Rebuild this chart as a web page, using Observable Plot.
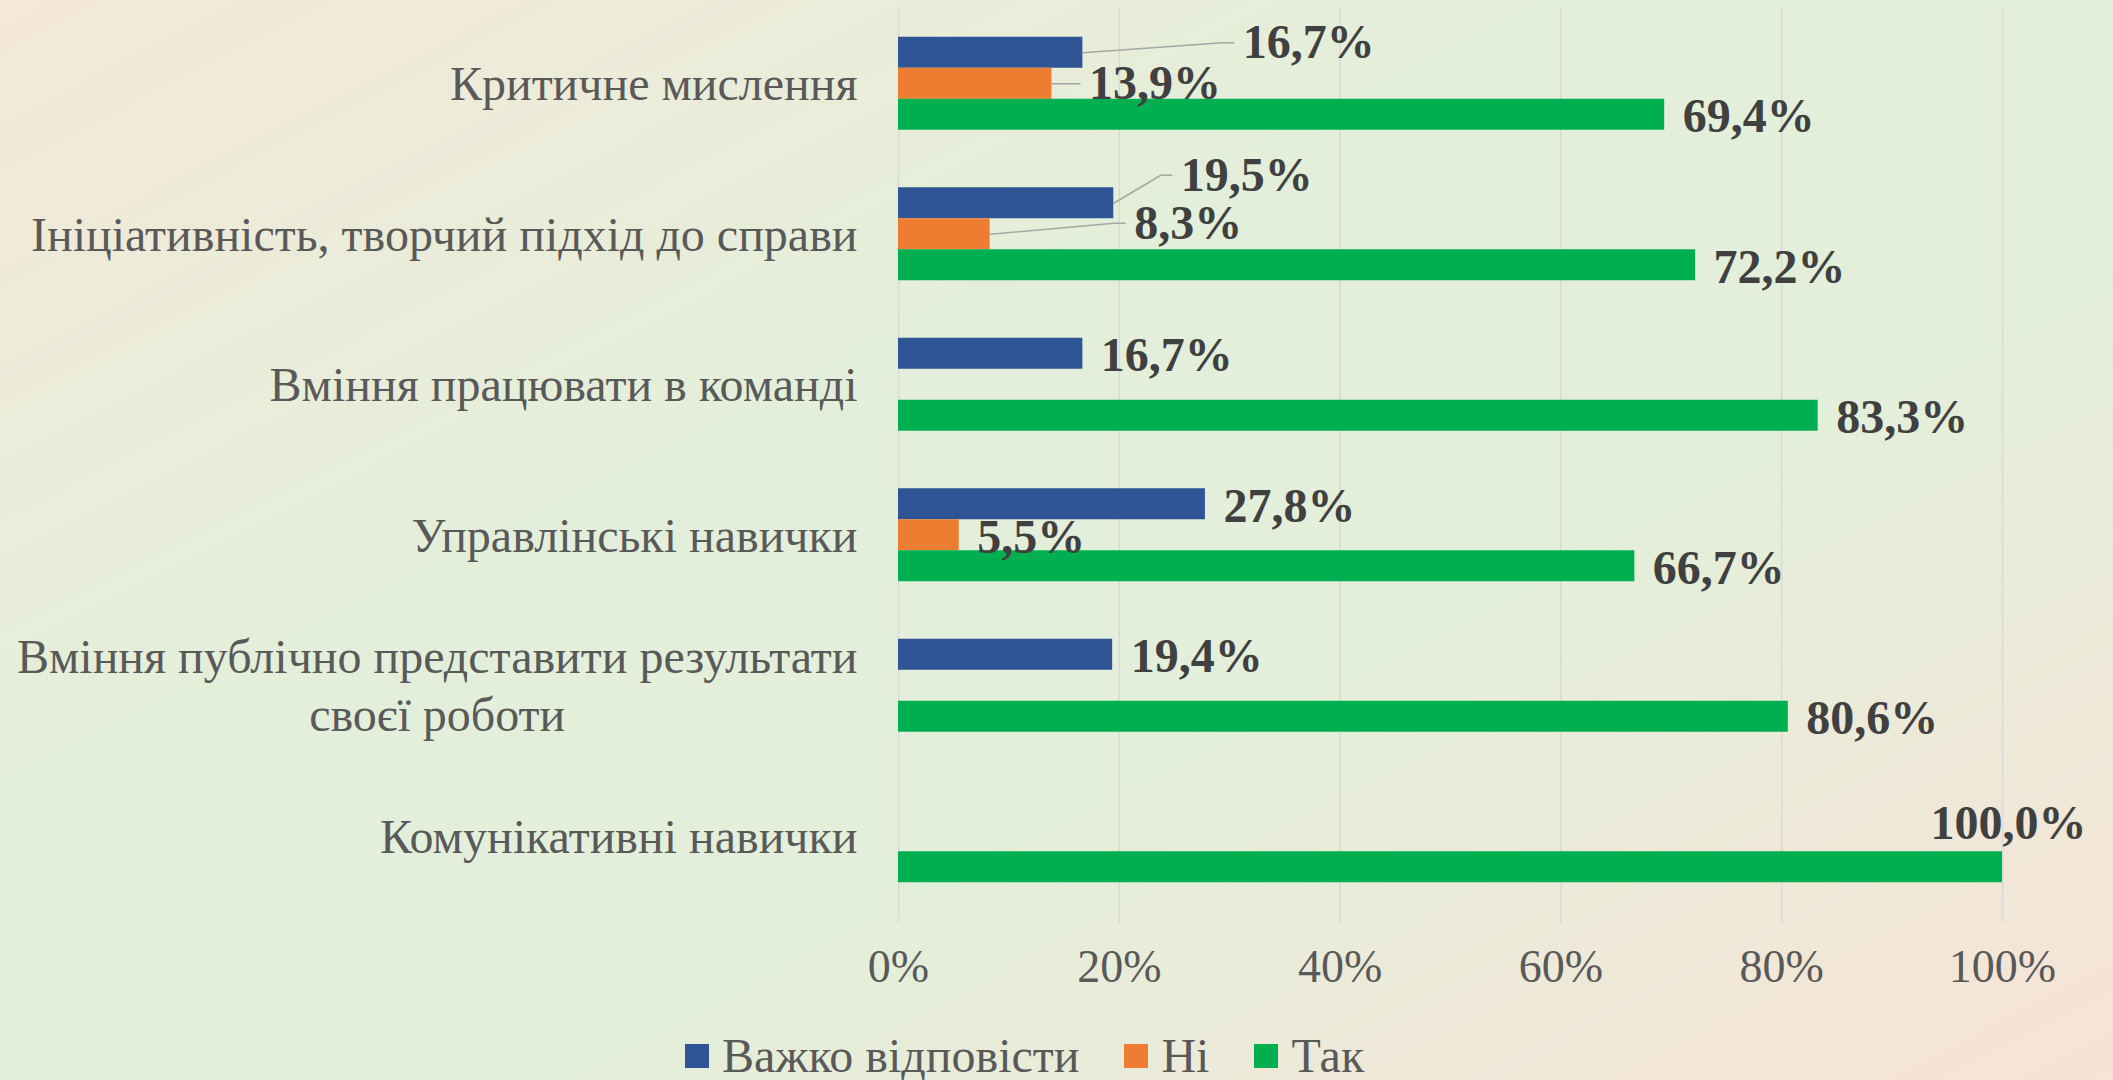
<!DOCTYPE html>
<html>
<head>
<meta charset="utf-8">
<script src="https://cdn.jsdelivr.net/npm/d3@7"></script>
<script src="https://cdn.jsdelivr.net/npm/@observablehq/plot@0.6"></script>
<style>
  html, body { margin: 0; padding: 0; width: 2113px; height: 1080px; overflow: hidden; }
  body {
    background: linear-gradient(to bottom right, #f4e8d8 0%, #e3efda 38%, #e3efda 62%, #f8e3d6 100%);
    font-family: "Liberation Serif", "Times New Roman", serif;
  }
  #legend {
    height: 48px; padding-top: 32px; padding-left: 685px;
    display: flex; align-items: center;
    font-size: 48px; line-height: 48px; color: #595959;
  }
  #legend .item { display: inline-flex; align-items: center; margin-right: 45px; }
  #legend .sw { width: 24px; height: 24px; margin-right: 13px; display: inline-block; }
</style>
</head>
<body>
<div id="chart"></div>
<div id="legend"></div>
<script>
// ---- data ----
const categories = [
  "Критичне мислення",
  "Ініціативність, творчий підхід до справи",
  "Вміння працювати в команді",
  "Управлінські навички",
  "Вміння публічно представити результати\nсвоєї роботи",
  "Комунікативні навички"
];
const series = ["Важко відповісти", "Ні", "Так"];
const seriesColors = ["#2F5597", "#ED7D31", "#00B050"];
const hardToSay = [16.7, 19.5, 16.7, 27.8, 19.4, null];
const no = [13.9, 8.3, null, 5.5, null, null];
const yes = [69.4, 72.2, 83.3, 66.7, 80.6, 100.0];
const xTicks = [0, 20, 40, 60, 80, 100];

// ---- layout constants ----
const W = 2113, H = 1000;
const mLeft = 898, mRight = 111, mTop = 8, mBottom = 77;
const barPx = 31, groupPx = 150.5;
const P = groupPx / barPx;                  // group pitch in bar units
const yTop = -0.5 - (groupPx - 3 * barPx) / 2 / barPx;
const yBottom = yTop + (H - mTop - mBottom) / barPx;
const xPerPx = 100 / (W - mLeft - mRight);
const yPerPx = 1 / barPx;
const fs = 48, tickFs = 46;
const font = '"Liberation Serif", "Times New Roman", serif';

const valuesBySeries = [hardToSay, no, yes];
const bars = [];
categories.forEach((c, g) => {
  series.forEach((s, i) => {
    const v = valuesBySeries[i][g];
    if (v != null && v > 0) bars.push({g, i, s, v, cy: g * P + i, text: v.toFixed(1).replace(".", ",") + "%"});
  });
});

// label nudges (px): [dx from bar end, dy from bar centre, leader line]
const nudge = {"0|0": [160, -10, true], "0|1": [37, 0, true], "1|0": [67, -28, true], "1|1": [144, -11, true], "5|2": [-72, -44, false]};
const labels = bars.map(d => {
  const [dx, dy, lead] = nudge[d.g + "|" + d.i] || [18, 2, false];
  return {...d, lx: d.v + dx * xPerPx, ly: d.cy + dy * yPerPx, lead};
});
const leaders = [];
labels.filter(d => d.lead).forEach(d => {
  const k = d.g + "|" + d.i;
  leaders.push({k, x: d.v, y: d.cy});
  leaders.push({k, x: d.lx - 20 * xPerPx, y: d.ly});
  leaders.push({k, x: d.lx - 9 * xPerPx, y: d.ly});
});

// category label widths for centred multi-line labels
const ctx = document.createElement("canvas").getContext("2d");
ctx.font = `${fs}px ${font}`;
const catMarks = categories.map((c, g) => {
  const w = d3.max(c.split("\n"), l => ctx.measureText(l).width);
  return Plot.text([{t: c, y: g * P + 1}], {
    y: "y", text: "t", frameAnchor: "left", textAnchor: "middle",
    dx: -(41 + w / 2), dy: -2, lineHeight: 1.19, fontSize: fs, fill: "#595959", fontFamily: font
  });
});

const chart = Plot.plot({
  width: W, height: H,
  marginLeft: mLeft, marginRight: mRight, marginTop: mTop, marginBottom: mBottom,
  style: {background: "transparent", fontFamily: font, fontSize: tickFs + "px", color: "#595959", overflow: "visible"},
  x: {domain: [0, 100], ticks: xTicks, tickFormat: d => d + "%", tickSize: 0, tickPadding: 26, label: null},
  y: {domain: [yBottom, yTop], axis: null},
  color: {domain: series, range: seriesColors},
  marks: [
    Plot.ruleX(xTicks, {stroke: "#d9d9d9", strokeWidth: 1.5}),
    Plot.rectX(bars, {x1: 0, x2: "v", y1: d => d.cy - 0.5, y2: d => d.cy + 0.5, fill: "s"}),
    Plot.line(leaders, {x: "x", y: "y", z: "k", stroke: "#a6a6a6", strokeWidth: 1.5}),
    Plot.text(labels, {x: "lx", y: "ly", text: "text", textAnchor: "start", fontSize: fs, fontWeight: "bold", fill: "#404040", fontFamily: font}),
    ...catMarks
  ]
});
document.getElementById("chart").appendChild(chart);

// legend
const lg = document.getElementById("legend");
series.forEach((s, i) => {
  const it = document.createElement("span");
  it.className = "item";
  const sw = document.createElement("span");
  sw.className = "sw";
  sw.style.background = seriesColors[i];
  it.appendChild(sw);
  it.appendChild(document.createTextNode(s));
  lg.appendChild(it);
});
</script>
</body>
</html>
